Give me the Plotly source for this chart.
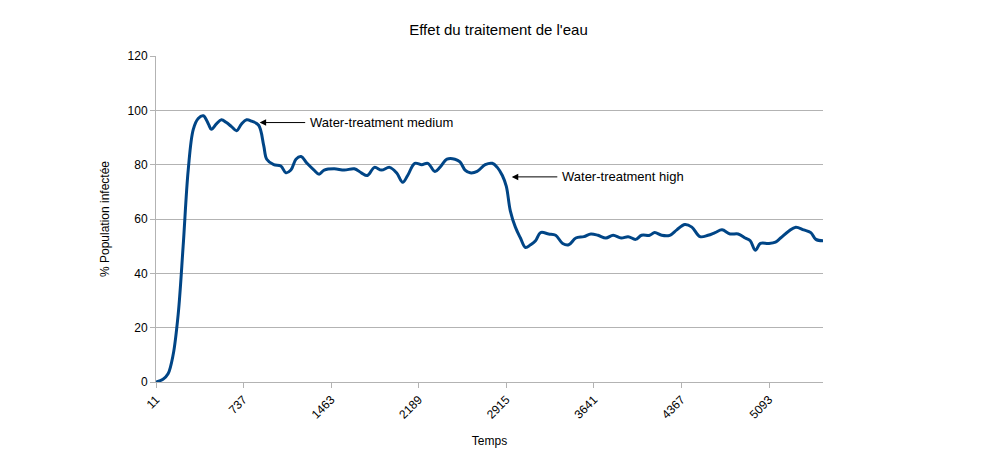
import plotly.graph_objects as go

temps = [11, 69, 111, 153, 195, 236, 278, 320, 361, 403, 445, 470, 512, 553, 595, 637, 679, 720,
         762, 804, 862, 904, 929, 987, 1046, 1088, 1129, 1171, 1213, 1263, 1321, 1363, 1405, 1488,
         1572, 1655, 1713, 1763, 1822, 1880, 1947, 2005, 2056, 2097, 2156, 2214, 2264, 2323, 2364,
         2423, 2489, 2531, 2573, 2615, 2673, 2740, 2798, 2840, 2882, 2915, 2948, 2990, 3032, 3074,
         3115, 3157, 3199, 3266, 3324, 3382, 3432, 3491, 3558, 3616, 3675, 3741, 3800, 3867, 3925,
         3987, 4036, 4103, 4145, 4203, 4270, 4328, 4395, 4453, 4520, 4587, 4645, 4703, 4770, 4837,
         4895, 4937, 4979, 5021, 5088, 5146, 5188, 5255, 5314, 5380, 5439, 5481, 5540]
infectes = [0, 1, 3, 10, 25, 50, 78, 93, 97, 98, 95, 93, 95, 96.5, 95.5, 94, 92.5, 95,
            96.5, 96, 94.5, 87, 82, 80, 79.5, 77, 78, 82, 83, 80.5, 78, 76.5, 78, 78.5,
            78, 78.5, 77, 76, 79, 78, 79, 77, 73.5, 76, 80.5, 80, 80.5, 77.5, 79,
            82, 82, 81, 78, 77, 77.5, 80, 80.5, 79, 76, 72, 63, 57, 53, 49.5,
            50.5, 52, 55, 54.5, 54, 51, 50.5, 53, 53.5, 54.5, 54, 53, 54, 53, 53.5,
            52.5, 54, 54, 55, 54, 54, 56, 58, 57, 53.5, 54, 55, 56, 54.5, 54.5,
            53, 52, 48.5, 51, 51, 51.5, 53, 55.5, 57, 56, 55, 52.5, 52]
tick_vals = [11, 737, 1463, 2189, 2915, 3641, 4367, 5093]
fleches = [(870, 95.5, "Water-treatment medium", 1260), (2960, 75.5, "Water-treatment high", 3350)]

fig = go.Figure(go.Scatter(x=temps, y=infectes, mode="lines",
                           line=dict(color="#004586", width=3, shape="spline")))

for x, y, txt, tx in fleches:
    fig.add_annotation(x=x, y=y, ax=tx, ay=y, axref="x", ayref="y", text="",
                       showarrow=True, arrowhead=2, arrowsize=1.3, arrowwidth=1, arrowcolor="black")
    fig.add_annotation(x=tx + 10, y=y, text=txt, showarrow=False, xanchor="left",
                       font=dict(size=13, color="black"))

fig.update_layout(
    width=981, height=470, plot_bgcolor="white", paper_bgcolor="white",
    margin=dict(l=148, r=166, t=48, b=96), showlegend=False,
    font=dict(family="Liberation Sans, Arial", size=12, color="black"),
    title=dict(text="Effet du traitement de l'eau", x=0.5, y=0.965, font=dict(size=15)),
)
fig.update_xaxes(range=[11, 5540], tickvals=tick_vals, tickangle=-45, showgrid=False,
                 showline=True, linecolor="#b3b3b3", ticks="outside", tickcolor="#b3b3b3",
                 title=dict(text="Temps", font=dict(size=12)))
fig.update_yaxes(range=[0, 120], dtick=20, showgrid=True, gridcolor="#b3b3b3",
                 showline=True, linecolor="#b3b3b3", ticks="outside", tickcolor="#b3b3b3",
                 zeroline=False, title=dict(text="% Population infectée", font=dict(size=12)))

fig.write_html("out.html")
